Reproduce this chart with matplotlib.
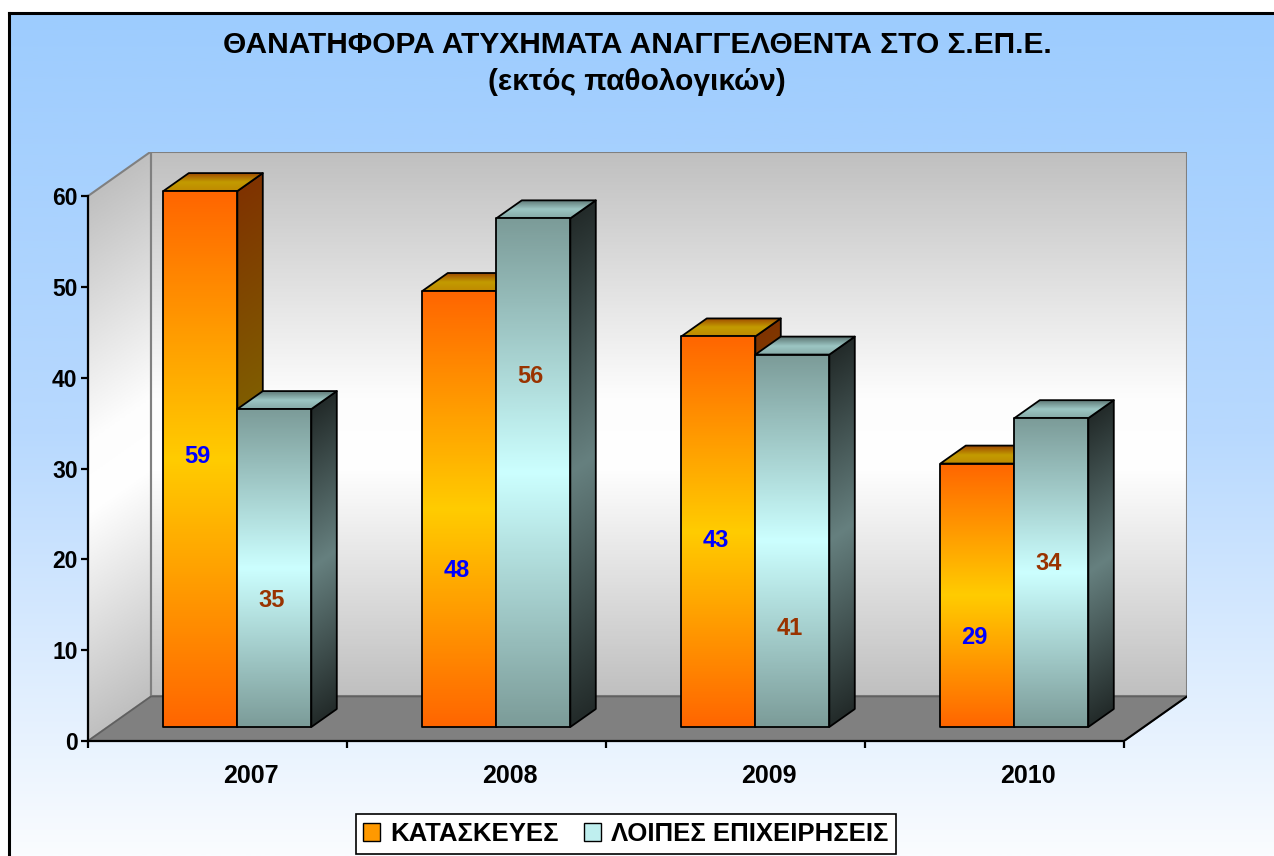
import numpy as np
import matplotlib
matplotlib.use('Agg')
import matplotlib.pyplot as plt
from matplotlib.patches import Polygon, Patch
from matplotlib.colors import LinearSegmentedColormap

plt.rcParams['font.family'] = ['Liberation Sans', 'DejaVu Sans']
plt.rcParams['font.weight'] = 'bold'

# Data
years = ['2007', '2008', '2009', '2010']
kataskeves = [59, 48, 43, 29]
loipes = [35, 56, 41, 34]
series_names = ['ΚΑΤΑΣΚΕΥΕΣ', 'ΛΟΙΠΕΣ ΕΠΙΧΕΙΡΗΣΕΙΣ']
yticks = [0, 10, 20, 30, 40, 50, 60]

# where the value labels sit on each bar (value units, hand placed in the original)
lab_y_kat = [29.8, 17.2, 20.5, 9.9]
lab_y_loi = [13.9, 38.6, 10.8, 18.0]

# 3D look: depth offset in data units, bar depth range
DX, DY = 0.2432, 4.9
ZF, ZB = 0.315, 0.719
BW = 1 / 3.5  # gap width 150%
YMAX = 60

W, H = 1274, 856
fig = plt.figure(figsize=(W / 100, H / 100), dpi=100)

# background with blue gradient and border
bg = fig.add_axes([0, 0, 1, 1], zorder=-10)
bg.axis('off')
grad = LinearSegmentedColormap.from_list('bg', ['#9dccfe', '#b8d9fe', '#fafcff'])
g = grad(np.linspace(0, 1, 256))[:, None, :]
bg.imshow(g, extent=(9, W, H, 13), origin='upper', aspect='auto', interpolation='bilinear')
bg.plot([9, 9], [13, H], color='black', lw=2.2)
bg.plot([9, W], [13, 13], color='black', lw=2.2)
bg.set_xlim(0, W)
bg.set_ylim(H, 0)

ax = fig.add_axes([88 / W, 115 / H, (4 + DX) * 259 / W, (YMAX + DY) * 9.083 / H])
ax.set_facecolor('none')


def proj(x, v, z):
    return np.array([x + z * DX, v + z * DY])


def face(o, a, b, cols, along='b', z=1, edge='black', lw=1.3):
    o, a, b = np.asarray(o, float), np.asarray(a, float), np.asarray(b, float)
    pts = np.array([o, o + a, o + a + b, o + b])
    x0, x1 = pts[:, 0].min(), pts[:, 0].max()
    y0, y1 = pts[:, 1].min(), pts[:, 1].max()
    X, Y = np.meshgrid(np.linspace(x0, x1, 160), np.linspace(y0, y1, 160))
    inv = np.linalg.inv(np.array([[a[0], b[0]], [a[1], b[1]]]))
    s = inv[0, 0] * (X - o[0]) + inv[0, 1] * (Y - o[1])
    t = inv[1, 0] * (X - o[0]) + inv[1, 1] * (Y - o[1])
    p = np.clip(s if along == 'a' else t, 0, 1)
    cmap = LinearSegmentedColormap.from_list('f', cols)
    im = ax.imshow(cmap(p), extent=(x0, x1, y0, y1), origin='lower', aspect='auto',
                   interpolation='bilinear', zorder=z)
    poly = Polygon(pts, closed=True, facecolor='none', edgecolor=edge, lw=lw,
                   zorder=z + 0.01, joinstyle='round')
    ax.add_patch(poly)
    im.set_clip_path(poly)


wall_cols = [(0, '#c0c0c0'), (0.42, '#ffffff'), (0.55, '#fdfdfd'), (1, '#c0c0c0')]
# side wall, back wall, floor
face((0, 0), (DX, DY), (0, YMAX), wall_cols, z=1, edge='#808080', lw=1.5)
face((DX, DY), (4, 0), (0, YMAX), wall_cols, z=1, edge='#808080', lw=1.5)
ax.add_patch(Polygon([(0, 0), (4, 0), (4 + DX, DY), (DX, DY)], closed=True,
                     facecolor='#808080', edgecolor='#606060', lw=1.2, zorder=1.5))
ax.plot([4, 4 + DX], [0, DY], color='black', lw=1.5, zorder=1.6)

styles = [
    dict(front=['#ff6600', '#ffcc00', '#ff6600'],
         side=['#7f3300', '#806600', '#7f3300'],
         top=['#bf8a00', '#c39b00', '#9e4a00'],
         lab='#0000ff'),
    dict(front=['#7c9c99', '#ccffff', '#7c9c99'],
         side=['#232b2a', '#66807f', '#232b2a'],
         top=['#86aaa7', '#9cc6c3', '#5e7775'],
         lab='#993300'),
]

zo = 3
for i in range(len(years)):
    for k, (vals, laby) in enumerate([(kataskeves, lab_y_kat), (loipes, lab_y_loi)]):
        st = styles[k]
        h = vals[i]
        x0 = i + 0.75 * BW + k * BW
        dz = ZB - ZF
        depth = (DX * dz, DY * dz)
        face(proj(x0 + BW, 0, ZF), depth, (0, h), st['side'], z=zo)
        face(proj(x0, h, ZF), (BW, 0), depth, st['top'], z=zo + 0.1)
        face(proj(x0, 0, ZF), (BW, 0), (0, h), st['front'], z=zo + 0.2)
        lx, ly = proj(x0 + BW / 2, laby[i], ZF)
        ax.text(lx - 0.01, ly, str(h), color=st['lab'], fontsize=17, fontweight='bold',
                ha='center', va='center', zorder=zo + 0.5)
        zo += 1

# axes
ax.set_xlim(0, 4 + DX)
ax.set_ylim(0, YMAX + DY)
for s in ['top', 'right']:
    ax.spines[s].set_visible(False)
ax.spines['left'].set_bounds(0, YMAX)
ax.spines['bottom'].set_bounds(0, 4)
for s in ['left', 'bottom']:
    ax.spines[s].set_linewidth(1.6)
    ax.spines[s].set_zorder(50)
ax.set_yticks(yticks)
ax.set_yticklabels([str(t) for t in yticks], fontsize=16.5, fontweight='bold')
ax.set_xticks(range(5))
ax.set_xticklabels([])
ax.tick_params(axis='both', direction='out', length=5, width=1.6, pad=2.5)

for i, yr in enumerate(years):
    ax.text(i + 0.5 + 0.13, -3.85, yr, fontsize=18, fontweight='bold',
            ha='center', va='center', clip_on=False)

fig.text(0.5, 1 - 45 / H, 'ΘΑΝΑΤΗΦΟΡΑ ΑΤΥΧΗΜΑΤΑ ΑΝΑΓΓΕΛΘΕΝΤΑ ΣΤΟ Σ.ΕΠ.Ε.',
         ha='center', va='center', fontsize=21.5, fontweight='bold')
fig.text(0.5, 1 - 82 / H, '(εκτός παθολογικών)',
         ha='center', va='center', fontsize=21.5, fontweight='bold')

handles = [Patch(facecolor='#ff9900', edgecolor='black'),
           Patch(facecolor='#bfefef', edgecolor='black')]
leg = fig.legend(handles, series_names, loc='center', bbox_to_anchor=(626 / W, 1 - 834 / H),
                 ncol=2, frameon=True, fancybox=False, edgecolor='black', facecolor='white',
                 framealpha=1, prop={'weight': 'bold', 'size': 18.5},
                 handlelength=0.65, handleheight=0.65, handletextpad=0.4,
                 columnspacing=1.0, borderpad=0.3)
leg.get_frame().set_linewidth(1.2)

fig.savefig('out.png', dpi=100)
